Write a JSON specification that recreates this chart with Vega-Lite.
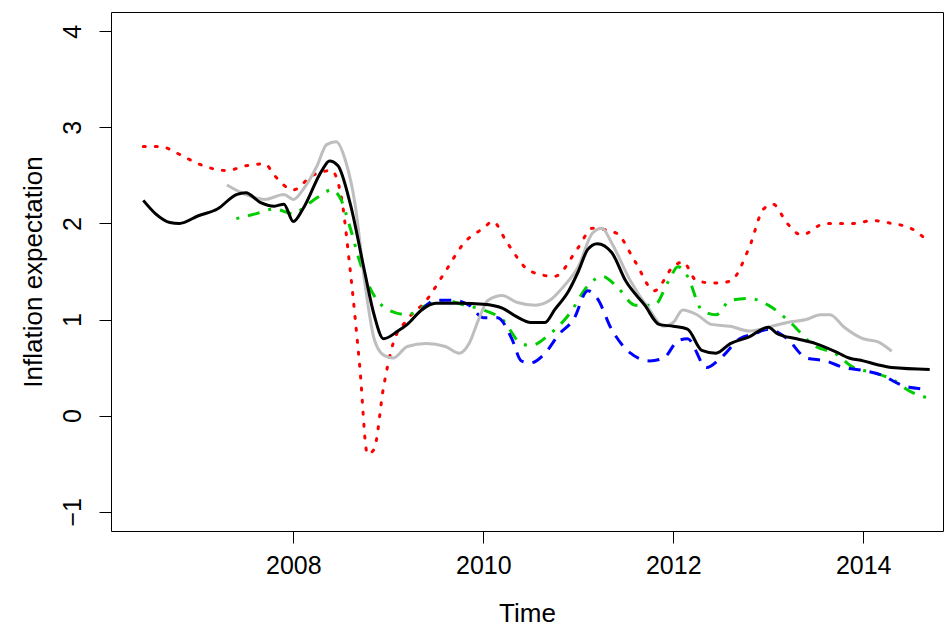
{
  "$schema": "https://vega.github.io/schema/vega-lite/v6.json",
  "width": 832, "height": 519,
  "autosize": "none",
  "padding": {"left": 111, "top": 12, "right": 2, "bottom": 102},
  "background": "white",
  "config": {"view": {"stroke": "black", "strokeWidth": 1}, "font": "Liberation Sans"},
  "data": {"values": [
    {"s":"black","t":2006.42,"v":2.24},{"s":"black","t":2006.55,"v":2.1},{"s":"black","t":2006.7,"v":2.01},{"s":"black","t":2006.8,"v":2.0},{"s":"black","t":2007.0,"v":2.08},{"s":"black","t":2007.2,"v":2.15},{"s":"black","t":2007.4,"v":2.3},{"s":"black","t":2007.5,"v":2.32},{"s":"black","t":2007.65,"v":2.22},{"s":"black","t":2007.8,"v":2.18},{"s":"black","t":2007.9,"v":2.2},{"s":"black","t":2008.0,"v":2.02},{"s":"black","t":2008.1,"v":2.15},{"s":"black","t":2008.3,"v":2.55},{"s":"black","t":2008.38,"v":2.65},{"s":"black","t":2008.47,"v":2.6},{"s":"black","t":2008.6,"v":2.2},{"s":"black","t":2008.75,"v":1.5},{"s":"black","t":2008.85,"v":1.05},{"s":"black","t":2008.95,"v":0.8},{"s":"black","t":2009.1,"v":0.88},{"s":"black","t":2009.2,"v":0.95},{"s":"black","t":2009.35,"v":1.1},{"s":"black","t":2009.5,"v":1.17},{"s":"black","t":2009.75,"v":1.17},{"s":"black","t":2010.0,"v":1.16},{"s":"black","t":2010.2,"v":1.12},{"s":"black","t":2010.35,"v":1.03},{"s":"black","t":2010.5,"v":0.97},{"s":"black","t":2010.65,"v":0.97},{"s":"black","t":2010.75,"v":1.1},{"s":"black","t":2010.9,"v":1.3},{"s":"black","t":2011.0,"v":1.5},{"s":"black","t":2011.1,"v":1.73},{"s":"black","t":2011.2,"v":1.79},{"s":"black","t":2011.35,"v":1.7},{"s":"black","t":2011.5,"v":1.4},{"s":"black","t":2011.7,"v":1.15},{"s":"black","t":2011.85,"v":0.95},{"s":"black","t":2012.0,"v":0.93},{"s":"black","t":2012.15,"v":0.9},{"s":"black","t":2012.3,"v":0.68},{"s":"black","t":2012.45,"v":0.65},{"s":"black","t":2012.6,"v":0.75},{"s":"black","t":2012.8,"v":0.82},{"s":"black","t":2013.0,"v":0.92},{"s":"black","t":2013.1,"v":0.85},{"s":"black","t":2013.3,"v":0.8},{"s":"black","t":2013.5,"v":0.75},{"s":"black","t":2013.7,"v":0.67},{"s":"black","t":2013.85,"v":0.6},{"s":"black","t":2014.0,"v":0.57},{"s":"black","t":2014.15,"v":0.53},{"s":"black","t":2014.3,"v":0.5},{"s":"black","t":2014.7,"v":0.48},
    {"s":"gray","t":2007.3,"v":2.4},{"s":"gray","t":2007.5,"v":2.3},{"s":"gray","t":2007.7,"v":2.25},{"s":"gray","t":2007.9,"v":2.3},{"s":"gray","t":2008.0,"v":2.25},{"s":"gray","t":2008.1,"v":2.35},{"s":"gray","t":2008.25,"v":2.6},{"s":"gray","t":2008.35,"v":2.82},{"s":"gray","t":2008.45,"v":2.85},{"s":"gray","t":2008.55,"v":2.65},{"s":"gray","t":2008.65,"v":2.2},{"s":"gray","t":2008.75,"v":1.4},{"s":"gray","t":2008.85,"v":0.8},{"s":"gray","t":2008.95,"v":0.63},{"s":"gray","t":2009.05,"v":0.6},{"s":"gray","t":2009.2,"v":0.72},{"s":"gray","t":2009.4,"v":0.75},{"s":"gray","t":2009.6,"v":0.72},{"s":"gray","t":2009.75,"v":0.65},{"s":"gray","t":2009.85,"v":0.75},{"s":"gray","t":2009.95,"v":1.0},{"s":"gray","t":2010.05,"v":1.2},{"s":"gray","t":2010.2,"v":1.25},{"s":"gray","t":2010.35,"v":1.18},{"s":"gray","t":2010.55,"v":1.15},{"s":"gray","t":2010.7,"v":1.2},{"s":"gray","t":2010.85,"v":1.35},{"s":"gray","t":2011.0,"v":1.55},{"s":"gray","t":2011.15,"v":1.9},{"s":"gray","t":2011.25,"v":1.95},{"s":"gray","t":2011.35,"v":1.8},{"s":"gray","t":2011.55,"v":1.4},{"s":"gray","t":2011.75,"v":1.1},{"s":"gray","t":2011.9,"v":0.93},{"s":"gray","t":2012.0,"v":0.97},{"s":"gray","t":2012.1,"v":1.1},{"s":"gray","t":2012.25,"v":1.05},{"s":"gray","t":2012.4,"v":0.95},{"s":"gray","t":2012.6,"v":0.93},{"s":"gray","t":2012.8,"v":0.88},{"s":"gray","t":2013.0,"v":0.92},{"s":"gray","t":2013.2,"v":0.97},{"s":"gray","t":2013.4,"v":1.0},{"s":"gray","t":2013.55,"v":1.05},{"s":"gray","t":2013.65,"v":1.05},{"s":"gray","t":2013.8,"v":0.92},{"s":"gray","t":2014.0,"v":0.8},{"s":"gray","t":2014.15,"v":0.77},{"s":"gray","t":2014.3,"v":0.67},
    {"s":"red","t":2006.42,"v":2.8},{"s":"red","t":2006.6,"v":2.8},{"s":"red","t":2006.8,"v":2.72},{"s":"red","t":2007.0,"v":2.62},{"s":"red","t":2007.3,"v":2.55},{"s":"red","t":2007.5,"v":2.6},{"s":"red","t":2007.7,"v":2.62},{"s":"red","t":2007.8,"v":2.5},{"s":"red","t":2008.0,"v":2.35},{"s":"red","t":2008.2,"v":2.5},{"s":"red","t":2008.4,"v":2.55},{"s":"red","t":2008.5,"v":2.3},{"s":"red","t":2008.6,"v":1.5},{"s":"red","t":2008.7,"v":0.5},{"s":"red","t":2008.78,"v":-0.4},{"s":"red","t":2008.85,"v":-0.35},{"s":"red","t":2008.95,"v":0.3},{"s":"red","t":2009.05,"v":0.75},{"s":"red","t":2009.2,"v":1.0},{"s":"red","t":2009.4,"v":1.2},{"s":"red","t":2009.6,"v":1.5},{"s":"red","t":2009.8,"v":1.8},{"s":"red","t":2010.0,"v":1.95},{"s":"red","t":2010.1,"v":2.02},{"s":"red","t":2010.25,"v":1.8},{"s":"red","t":2010.5,"v":1.5},{"s":"red","t":2010.75,"v":1.45},{"s":"red","t":2011.0,"v":1.75},{"s":"red","t":2011.15,"v":1.95},{"s":"red","t":2011.4,"v":1.9},{"s":"red","t":2011.6,"v":1.6},{"s":"red","t":2011.8,"v":1.3},{"s":"red","t":2012.0,"v":1.55},{"s":"red","t":2012.1,"v":1.6},{"s":"red","t":2012.25,"v":1.4},{"s":"red","t":2012.45,"v":1.38},{"s":"red","t":2012.6,"v":1.4},{"s":"red","t":2012.8,"v":1.75},{"s":"red","t":2012.95,"v":2.15},{"s":"red","t":2013.05,"v":2.2},{"s":"red","t":2013.2,"v":2.0},{"s":"red","t":2013.35,"v":1.88},{"s":"red","t":2013.6,"v":2.0},{"s":"red","t":2013.9,"v":2.0},{"s":"red","t":2014.1,"v":2.03},{"s":"red","t":2014.3,"v":2.0},{"s":"red","t":2014.5,"v":1.95},{"s":"red","t":2014.7,"v":1.8},
    {"s":"green","t":2007.4,"v":2.05},{"s":"green","t":2007.6,"v":2.1},{"s":"green","t":2007.8,"v":2.15},{"s":"green","t":2008.0,"v":2.1},{"s":"green","t":2008.15,"v":2.2},{"s":"green","t":2008.3,"v":2.3},{"s":"green","t":2008.4,"v":2.35},{"s":"green","t":2008.5,"v":2.25},{"s":"green","t":2008.6,"v":1.95},{"s":"green","t":2008.7,"v":1.6},{"s":"green","t":2008.85,"v":1.25},{"s":"green","t":2009.0,"v":1.1},{"s":"green","t":2009.2,"v":1.05},{"s":"green","t":2009.4,"v":1.15},{"s":"green","t":2009.6,"v":1.2},{"s":"green","t":2009.8,"v":1.15},{"s":"green","t":2010.0,"v":1.1},{"s":"green","t":2010.2,"v":1.0},{"s":"green","t":2010.4,"v":0.75},{"s":"green","t":2010.5,"v":0.73},{"s":"green","t":2010.7,"v":0.85},{"s":"green","t":2010.9,"v":1.05},{"s":"green","t":2011.1,"v":1.35},{"s":"green","t":2011.25,"v":1.45},{"s":"green","t":2011.4,"v":1.35},{"s":"green","t":2011.6,"v":1.15},{"s":"green","t":2011.8,"v":1.15},{"s":"green","t":2011.95,"v":1.4},{"s":"green","t":2012.05,"v":1.55},{"s":"green","t":2012.15,"v":1.45},{"s":"green","t":2012.3,"v":1.1},{"s":"green","t":2012.45,"v":1.05},{"s":"green","t":2012.6,"v":1.2},{"s":"green","t":2012.8,"v":1.22},{"s":"green","t":2013.0,"v":1.15},{"s":"green","t":2013.2,"v":1.0},{"s":"green","t":2013.5,"v":0.72},{"s":"green","t":2013.7,"v":0.65},{"s":"green","t":2013.9,"v":0.5},{"s":"green","t":2014.1,"v":0.45},{"s":"green","t":2014.3,"v":0.38},{"s":"green","t":2014.5,"v":0.25},{"s":"green","t":2014.7,"v":0.18},
    {"s":"blue","t":2009.35,"v":1.1},{"s":"blue","t":2009.5,"v":1.2},{"s":"blue","t":2009.7,"v":1.2},{"s":"blue","t":2009.85,"v":1.15},{"s":"blue","t":2010.0,"v":1.02},{"s":"blue","t":2010.15,"v":1.02},{"s":"blue","t":2010.3,"v":0.8},{"s":"blue","t":2010.4,"v":0.57},{"s":"blue","t":2010.5,"v":0.55},{"s":"blue","t":2010.65,"v":0.65},{"s":"blue","t":2010.8,"v":0.85},{"s":"blue","t":2010.95,"v":1.0},{"s":"blue","t":2011.1,"v":1.3},{"s":"blue","t":2011.2,"v":1.22},{"s":"blue","t":2011.35,"v":0.9},{"s":"blue","t":2011.55,"v":0.65},{"s":"blue","t":2011.75,"v":0.57},{"s":"blue","t":2011.9,"v":0.6},{"s":"blue","t":2012.05,"v":0.78},{"s":"blue","t":2012.15,"v":0.8},{"s":"blue","t":2012.35,"v":0.5},{"s":"blue","t":2012.5,"v":0.6},{"s":"blue","t":2012.7,"v":0.8},{"s":"blue","t":2012.85,"v":0.85},{"s":"blue","t":2013.0,"v":0.9},{"s":"blue","t":2013.2,"v":0.8},{"s":"blue","t":2013.4,"v":0.6},{"s":"blue","t":2013.6,"v":0.57},{"s":"blue","t":2013.8,"v":0.5},{"s":"blue","t":2014.0,"v":0.47},{"s":"blue","t":2014.2,"v":0.42},{"s":"blue","t":2014.4,"v":0.32},{"s":"blue","t":2014.6,"v":0.28}
  ]},
  "encoding": {
    "x": {"field": "t", "type": "quantitative", "title": "Time",
      "scale": {"domain": [2006.08, 2014.84], "nice": false, "zero": false},
      "axis": {"values": [2008, 2010, 2012, 2014], "format": "d", "grid": false, "domain": false,
        "tickSize": 12, "tickColor": "black", "labelColor": "black", "labelFontSize": 25, "labelPadding": 10,
        "titleFontSize": 26, "titleFontWeight": "normal", "titleColor": "black", "titlePadding": 22}},
    "y": {"field": "v", "type": "quantitative", "title": "Inflation expectation",
      "scale": {"domain": [-1.2, 4.2], "nice": false, "zero": false},
      "axis": {"values": [-1, 0, 1, 2, 3, 4], "grid": false, "domain": false,
        "tickSize": 12, "tickColor": "black", "labelColor": "black", "labelFontSize": 25, "labelAngle": -90, "labelAlign": "center", "labelBaseline": "bottom", "labelPadding": 14,
        "titleFontSize": 26, "titleFontWeight": "normal", "titleColor": "black", "titlePadding": 14}}
  },
  "layer": [
    {"transform": [{"filter": "datum.s == 'red'"}], "mark": {"type": "line", "color": "#FF0000", "strokeWidth": 3, "strokeDash": [2, 10], "strokeCap": "round", "interpolate": "monotone"}},
    {"transform": [{"filter": "datum.s == 'green'"}], "mark": {"type": "line", "color": "#00CD00", "strokeWidth": 3, "strokeDash": [3, 9, 12, 9], "strokeCap": "butt", "interpolate": "monotone"}},
    {"transform": [{"filter": "datum.s == 'blue'"}], "mark": {"type": "line", "color": "#0000FF", "strokeWidth": 3, "strokeDash": [12, 9], "strokeCap": "butt", "interpolate": "monotone"}},
    {"transform": [{"filter": "datum.s == 'gray'"}], "mark": {"type": "line", "color": "#BEBEBE", "strokeWidth": 3, "interpolate": "monotone"}},
    {"transform": [{"filter": "datum.s == 'black'"}], "mark": {"type": "line", "color": "black", "strokeWidth": 3, "interpolate": "monotone"}}
  ]
}
